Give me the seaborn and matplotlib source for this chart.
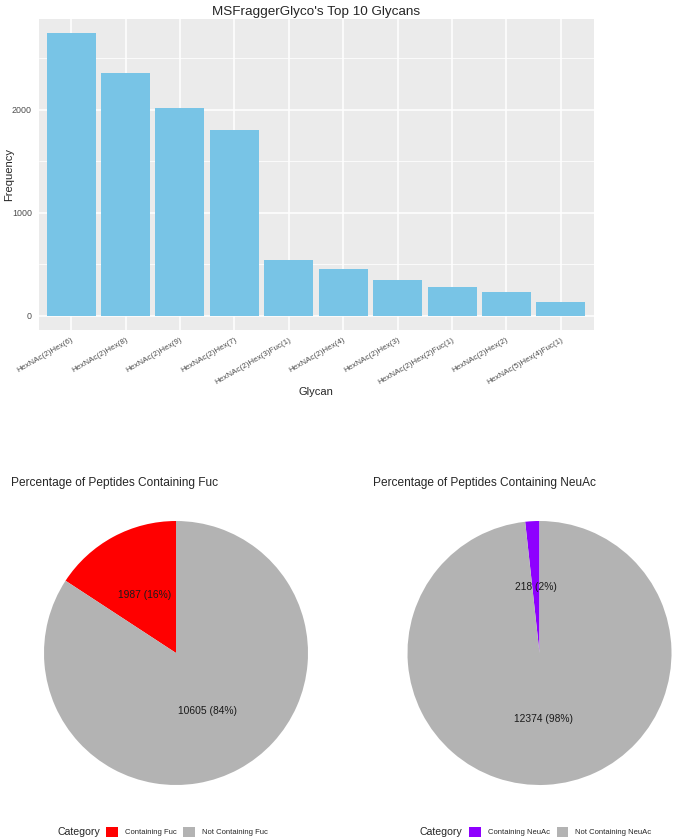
import numpy as np
import pandas as pd
import matplotlib
matplotlib.use("Agg")
import matplotlib.pyplot as plt
import seaborn as sns
from matplotlib.patches import Patch

# data
glycans = ["HexNAc(2)Hex(6)", "HexNAc(2)Hex(8)", "HexNAc(2)Hex(9)", "HexNAc(2)Hex(7)",
           "HexNAc(2)Hex(3)Fuc(1)", "HexNAc(2)Hex(4)", "HexNAc(2)Hex(3)",
           "HexNAc(2)Hex(2)Fuc(1)", "HexNAc(2)Hex(2)", "HexNAc(5)Hex(4)Fuc(1)"]
freq = [2745, 2356, 2019, 1806, 544, 453, 350, 282, 236, 139]

fuc_labels = ["Containing Fuc", "Not Containing Fuc"]
fuc_counts = [1987, 10605]
neuac_labels = ["Containing NeuAc", "Not Containing NeuAc"]
neuac_counts = [218, 12374]

sns.set_style("darkgrid")
plt.rcParams["font.family"] = ["Liberation Sans", "DejaVu Sans"]

W, H = 673, 840
fig = plt.figure(figsize=(W / 100, H / 100), dpi=100)


def box(x0, y0, x1, y1):
    # pixel box (top-left origin) -> figure fraction
    return [x0 / W, 1 - y1 / H, (x1 - x0) / W, (y1 - y0) / H]


# ---- bar chart ----
ax = fig.add_axes(box(38.5, 19, 593.5, 330))
df = pd.DataFrame({"Glycan": glycans, "Frequency": freq})
sns.barplot(data=df, x="Glycan", y="Frequency", color="#78C4E6", saturation=1,
            width=0.9, ax=ax, edgecolor="none")
ax.set_facecolor("#EBEBEB")
ax.set_xlim(-0.6, 9.6)
ax.set_ylim(-137, 2882)
ax.set_yticks([0, 1000, 2000])
ax.set_yticks([500, 1500, 2500], minor=True)
ax.grid(which="major", color="white", linewidth=1.1)
ax.grid(which="minor", axis="y", color="white", linewidth=0.55)
ax.set_axisbelow(True)
for s in ax.spines.values():
    s.set_visible(False)
ax.tick_params(axis="both", which="major", length=2.7, width=0.5, color="#333333",
               labelsize=6.4, labelcolor="#4D4D4D", pad=2)
ax.tick_params(axis="x", which="major", labelsize=5.8)
ax.tick_params(axis="y", which="minor", length=0)
ax.set_xticks(range(len(glycans)))
ax.set_xticklabels(glycans, rotation=30, ha="right", rotation_mode="anchor")
ax.set_xlabel("Glycan", fontsize=8)
ax.set_ylabel("Frequency", fontsize=8, va="center")
ax.xaxis.set_label_coords(0.5, -0.183)
ax.yaxis.set_label_coords(-0.053, 0.5)
ax.set_title("MSFraggerGlyco's Top 10 Glycans", fontsize=9.7, pad=3)


# ---- pies ----
def draw_pie(cx, title, tx, counts, labels, colors, legx):
    r = 132
    pax = fig.add_axes(box(cx - r, 653 - r, cx + r, 653 + r))
    total = sum(counts)
    pax.pie(counts, colors=colors, startangle=90, counterclock=True,
            wedgeprops=dict(linewidth=0))
    pax.set_xlim(-1, 1)
    pax.set_ylim(-1, 1)
    # labels at half radius, like position_stack(vjust=0.5)
    start = 90
    for c in counts:
        mid = np.deg2rad(start + c / total * 180)
        pax.text(0.5 * np.cos(mid), 0.5 * np.sin(mid),
                 f"{c} ({round(c / total * 100)}%)",
                 ha="center", va="center", fontsize=7.4, color="#1A1A1A")
        start += c / total * 360
    fig.text(tx / W, 1 - 483 / H, title, fontsize=8.6, ha="left", va="center")
    fig.text(legx / W, 1 - 832 / H, "Category", fontsize=7.6, ha="left", va="center")
    handles = [Patch(facecolor=col, edgecolor="none") for col in colors]
    fig.legend(handles, labels, loc="center left", ncol=2, frameon=False,
               bbox_to_anchor=((legx + 49) / W, 1 - 832 / H), fontsize=5.5,
               handlelength=1.55, handleheight=1.7, handletextpad=0.9,
               columnspacing=0.9, borderaxespad=0, borderpad=0)


draw_pie(176, "Percentage of Peptides Containing Fuc", 11,
         fuc_counts, fuc_labels, ["#FF0000", "#B3B3B3"], 57)
draw_pie(539.5, "Percentage of Peptides Containing NeuAc", 373,
         neuac_counts, neuac_labels, ["#8E00FF", "#B3B3B3"], 420)

fig.savefig("out.png", dpi=100)
